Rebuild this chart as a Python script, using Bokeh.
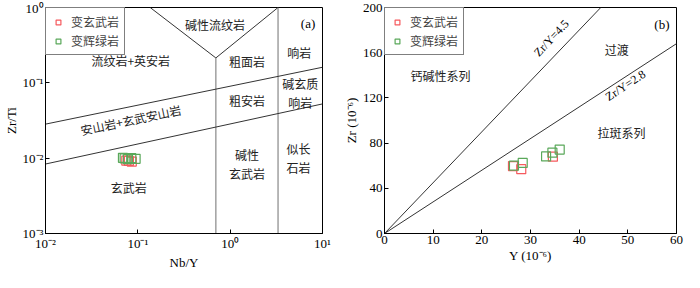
from bokeh.plotting import figure
from bokeh.layouts import row
from bokeh.models import FixedTicker, Range1d, Legend, LegendItem
from bokeh.core.properties import value
from bokeh.embed import file_html
from bokeh.resources import INLINE

CJK = "Noto Sans CJK SC"
SERIF = "Liberation Serif"
RED = "#f65a5e"
GREEN = "#5aa85a"

# ---------------- Panel (a) data: Zr/Ti vs Nb/Y ----------------
a_meta_basalt_nby = [0.075, 0.086, 0.080]
a_meta_basalt_zrti = [0.0093, 0.0090, 0.0092]
a_greenschist_nby = [0.069, 0.0946, 0.072, 0.085, 0.078]
a_greenschist_zrti = [0.0101, 0.0098, 0.0099, 0.0100, 0.0097]

# field boundaries (Nb/Y, Zr/Ti)
a_v_x = [0.136, 0.70, 3.3]
a_v_y = [1.0, 0.214, 1.0]
a_vert1_x = [0.70, 0.70]
a_vert1_y = [0.001, 0.214]
a_vert2_x = [3.3, 3.3]
a_vert2_y = [0.001, 1.0]
a_upper_x = [0.01, 10]
a_upper_y = [0.0283, 0.161]
a_lower_x = [0.01, 10]
a_lower_y = [0.00836, 0.0525]

a_ticks_x = [0.01, 0.1, 1, 10]
a_ticks_x_labels = ["10⁻²", "10⁻¹", "10⁰", "10¹"]
a_ticks_y = [0.001, 0.01, 0.1, 1]
a_ticks_y_labels = ["10⁻³", "10⁻²", "10⁻¹", "10⁰"]

a_labels = ["碱性流纹岩", "流纹岩+英安岩", "响岩", "粗面岩", "碱玄质\n响岩", "粗安岩",
            "碱性\n玄武岩", "似长\n石岩", "玄武岩"]
a_labels_x = [0.685, 0.0838, 5.61, 1.52, 5.75, 1.52, 1.52, 5.48, 0.0798]
a_labels_y = [0.598, 0.195, 0.254, 0.191, 0.0735, 0.0577, 0.0083, 0.0101, 0.00406]
a_rot_label = "安山岩+玄武安山岩"
a_rot_x = 0.0838
a_rot_y = 0.0326

# ---------------- Panel (b) data: Zr vs Y ----------------
b_meta_basalt_y = [26.4, 28.1, 34.6]
b_meta_basalt_zr = [59.7, 56.9, 68.0]
b_greenschist_y = [26.6, 28.4, 33.2, 34.5, 36.0]
b_greenschist_zr = [60.0, 62.5, 68.2, 71.5, 74.3]

b_ratio_hi = 4.5
b_ratio_lo = 2.8

b_labels = ["钙碱性系列", "过渡", "拉斑系列"]
b_labels_x = [11.5, 47.7, 48.7]
b_labels_y = [140, 162.5, 89]

series_names = ["变玄武岩", "变辉绿岩"]


def style(p):
    p.outline_line_color = "black"
    p.outline_line_width = 1
    p.xgrid.visible = False
    p.ygrid.visible = False
    for ax in (p.xaxis[0], p.yaxis[0]):
        ax.major_tick_in = 4
        ax.major_tick_out = 0
        ax.minor_tick_line_color = None
        ax.major_label_text_font = SERIF
        ax.major_label_text_font_size = "13px"
        ax.major_label_text_color = "black"
        ax.axis_label_text_font = SERIF
        ax.axis_label_text_font_size = "13px"
        ax.axis_label_text_font_style = "normal"
        ax.axis_label_text_color = "black"
        ax.axis_line_color = "black"
        ax.major_tick_line_color = "black"
        ax.major_label_standoff = 2
        ax.axis_label_standoff = 1


def add_legend(p, r1, r2):
    leg = Legend(items=[LegendItem(label=series_names[0], renderers=[r1]),
                        LegendItem(label=series_names[1], renderers=[r2])],
                 location="top_left")
    leg.margin = 0
    leg.padding = 5
    leg.spacing = 2
    leg.border_line_color = "black"
    leg.border_line_width = 1
    leg.label_text_font = CJK
    leg.label_text_font_size = "12px"
    leg.label_height = 12
    leg.glyph_height = 12
    leg.glyph_width = 14
    leg.label_standoff = 6
    leg.background_fill_alpha = 1
    p.add_layout(leg)


TXT = dict(text_font=value(CJK), text_font_size="12px", text_align="center",
           text_baseline="middle", text_color="#222222", text_line_height=1.1)

# ---------- Figure a ----------
pa = figure(width=340, height=272, x_axis_type="log", y_axis_type="log",
            x_range=Range1d(0.01, 10), y_range=Range1d(0.001, 1),
            output_backend="svg", toolbar_location=None,
            min_border_left=36, min_border_right=18, min_border_top=7, min_border_bottom=0,
            x_axis_label="Nb/Y", y_axis_label="Zr/Ti")
style(pa)
pa.xaxis.ticker = FixedTicker(ticks=a_ticks_x)
pa.xaxis.major_label_overrides = dict(zip(a_ticks_x, a_ticks_x_labels))
pa.yaxis.ticker = FixedTicker(ticks=a_ticks_y)
pa.yaxis.major_label_overrides = dict(zip(a_ticks_y, a_ticks_y_labels))

dark = "#333333"
pa.line(a_v_x, a_v_y, line_color=dark, line_width=1)
pa.line(a_vert1_x, a_vert1_y, line_color="#888888", line_width=1.2)
pa.line(a_vert2_x, a_vert2_y, line_color="#888888", line_width=1.2)
pa.line(a_upper_x, a_upper_y, line_color=dark, line_width=1)
pa.line(a_lower_x, a_lower_y, line_color=dark, line_width=1)

ra1 = pa.scatter(a_meta_basalt_nby, a_meta_basalt_zrti, marker="square", size=9,
                 fill_color=None, line_color=RED, line_width=1.2)
ra2 = pa.scatter(a_greenschist_nby, a_greenschist_zrti, marker="square", size=9,
                 fill_color=None, line_color=GREEN, line_width=1.2)

pa.text(a_labels_x, a_labels_y, text=a_labels, **TXT)
pa.text([a_rot_x], [a_rot_y], text=[a_rot_label], angle=12, angle_units="deg", **TXT)
pa.text([6.98], [0.615], text=["(a)"], text_font=value(SERIF), text_font_size="13px",
        text_align="center", text_baseline="middle")
add_legend(pa, ra1, ra2)

# ---------- Figure b ----------
pb = figure(width=344, height=272, x_range=Range1d(0, 60), y_range=Range1d(0, 200),
            output_backend="svg", toolbar_location=None,
            min_border_left=44, min_border_right=8, min_border_top=7, min_border_bottom=0,
            x_axis_label="Y (10⁻⁶)", y_axis_label="Zr (10⁻⁶)")
style(pb)
pb.xaxis.ticker = FixedTicker(ticks=[0, 10, 20, 30, 40, 50, 60])
pb.yaxis.ticker = FixedTicker(ticks=[0, 40, 80, 120, 160, 200])

pb.line([0, 200 / b_ratio_hi], [0, 200], line_color=dark, line_width=1)
pb.line([0, 60], [0, 60 * b_ratio_lo], line_color=dark, line_width=1)

rb1 = pb.scatter(b_meta_basalt_y, b_meta_basalt_zr, marker="square", size=9,
                 fill_color=None, line_color=RED, line_width=1.2)
rb2 = pb.scatter(b_greenschist_y, b_greenschist_zr, marker="square", size=9,
                 fill_color=None, line_color=GREEN, line_width=1.2)

pb.text(b_labels_x, b_labels_y, text=b_labels, **TXT)
pb.text([34.3], [173], text=["Zr/Y=4.5"], angle=47, angle_units="deg",
        text_font=value(SERIF), text_font_size="12px", text_align="center", text_baseline="middle")
pb.text([49.5], [131], text=["Zr/Y=2.8"], angle=33.7, angle_units="deg",
        text_font=value(SERIF), text_font_size="12px", text_align="center", text_baseline="middle")
pb.text([57], [185], text=["(b)"], text_font=value(SERIF), text_font_size="13px",
        text_align="center", text_baseline="middle")
add_legend(pb, rb1, rb2)

layout = row(pa, pb)
open("out.html", "w").write(file_html(layout, INLINE))
